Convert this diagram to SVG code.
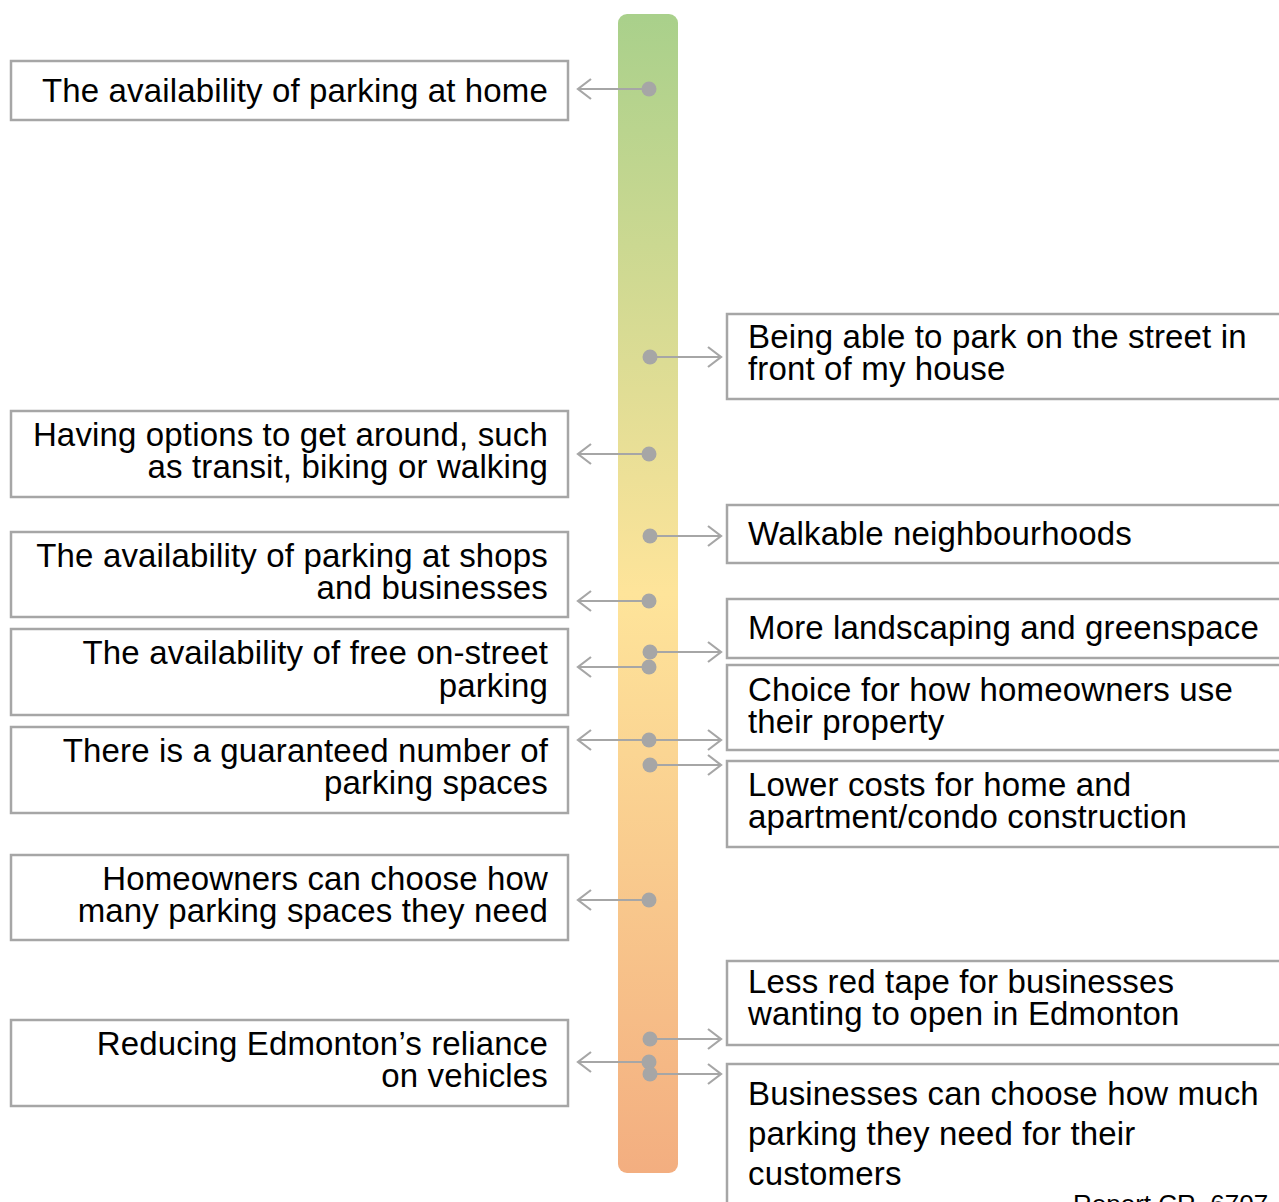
<svg xmlns="http://www.w3.org/2000/svg" width="1279" height="1202" viewBox="0 0 1279 1202">
<defs>
<linearGradient id="bar" x1="0" y1="0" x2="0" y2="1">
<stop offset="0" stop-color="#a9d08b"/>
<stop offset="0.5" stop-color="#fee49a"/>
<stop offset="1" stop-color="#f3ae80"/>
</linearGradient>
<marker id="ah" markerWidth="16" markerHeight="24" refX="14" refY="12" orient="auto" markerUnits="userSpaceOnUse">
<path d="M1,2 L14,12 L1,22" fill="none" stroke="#a6a6a6" stroke-width="2.2"/>
</marker>
</defs>
<style>
.box{fill:#fff;stroke:#a6a6a6;stroke-width:2.5}
.t{font-family:"Liberation Sans",Arial,sans-serif;font-size:33px;fill:#000;letter-spacing:0.15px}
.l{text-anchor:end}
.c{stroke:#a6a6a6;stroke-width:2.2;fill:none;marker-end:url(#ah)}
.d{fill:#a6a6a6}
</style>
<rect width="1279" height="1202" fill="#fff"/>
<rect id="scale" x="618" y="14" width="60" height="1159" rx="9" fill="url(#bar)"/>

<g id="L1"><rect class="box" x="11" y="61" width="557" height="59"/><text class="t l" x="548" y="102">The availability of parking at home</text></g>
<g id="L2"><rect class="box" x="11" y="411" width="557" height="86"/><text class="t l" x="548" y="446">Having options to get around, such</text><text class="t l" x="548" y="478">as transit, biking or walking</text></g>
<g id="L3"><rect class="box" x="11" y="532" width="557" height="85"/><text class="t l" x="548" y="567">The availability of parking at shops</text><text class="t l" x="548" y="599">and businesses</text></g>
<g id="L4"><rect class="box" x="11" y="629" width="557" height="86"/><text class="t l" x="548" y="664">The availability of free on-street</text><text class="t l" x="548" y="697">parking</text></g>
<g id="L5"><rect class="box" x="11" y="727" width="557" height="86"/><text class="t l" x="548" y="762">There is a guaranteed number of</text><text class="t l" x="548" y="794">parking spaces</text></g>
<g id="L6"><rect class="box" x="11" y="855" width="557" height="85"/><text class="t l" x="548" y="890">Homeowners can choose how</text><text class="t l" x="548" y="922">many parking spaces they need</text></g>
<g id="L7"><rect class="box" x="11" y="1020" width="557" height="86"/><text class="t l" x="548" y="1055">Reducing Edmonton’s reliance</text><text class="t l" x="548" y="1087">on vehicles</text></g>

<g id="R1"><rect class="box" x="727" y="314" width="570" height="85"/><text class="t" x="748" y="348">Being able to park on the street in</text><text class="t" x="748" y="380">front of my house</text></g>
<g id="R2"><rect class="box" x="727" y="505" width="570" height="58"/><text class="t" x="748" y="545">Walkable neighbourhoods</text></g>
<g id="R3"><rect class="box" x="727" y="599" width="570" height="59"/><text class="t" x="748" y="639">More landscaping and greenspace</text></g>
<g id="R4"><rect class="box" x="727" y="665" width="570" height="85"/><text class="t" x="748" y="701">Choice for how homeowners use</text><text class="t" x="748" y="733">their property</text></g>
<g id="R5"><rect class="box" x="727" y="761" width="570" height="86"/><text class="t" x="748" y="796">Lower costs for home and</text><text class="t" x="748" y="828">apartment/condo construction</text></g>
<g id="R6"><rect class="box" x="727" y="961" width="570" height="84"/><text class="t" x="748" y="993">Less red tape for businesses</text><text class="t" x="748" y="1025">wanting to open in Edmonton</text></g>
<g id="R7"><rect class="box" x="727" y="1064" width="570" height="160"/><text class="t" x="748" y="1105">Businesses can choose how much</text><text class="t" x="748" y="1145">parking they need for their</text><text class="t" x="748" y="1185">customers</text></g>

<g id="connectors">
<path class="c" d="M649,89 H578"/>
<path class="c" d="M650,357 H721"/>
<path class="c" d="M649,454 H578"/>
<path class="c" d="M650,536 H721"/>
<path class="c" d="M649,601 H578"/>
<path class="c" d="M650,652 H721"/>
<path class="c" d="M649,667 H578"/>
<path class="c" d="M649,740 H578"/>
<path class="c" d="M649,740 H721"/>
<path class="c" d="M650,765 H721"/>
<path class="c" d="M649,900 H578"/>
<path class="c" d="M650,1039 H721"/>
<path class="c" d="M649,1062 H578"/>
<path class="c" d="M650,1074 H721"/>
<circle class="d" cx="649" cy="89" r="7.5"/>
<circle class="d" cx="650" cy="357" r="7.5"/>
<circle class="d" cx="649" cy="454" r="7.5"/>
<circle class="d" cx="650" cy="536" r="7.5"/>
<circle class="d" cx="649" cy="601" r="7.5"/>
<circle class="d" cx="650" cy="652" r="7.5"/>
<circle class="d" cx="649" cy="667" r="7.5"/>
<circle class="d" cx="649" cy="740" r="7.5"/>
<circle class="d" cx="650" cy="765" r="7.5"/>
<circle class="d" cx="649" cy="900" r="7.5"/>
<circle class="d" cx="650" cy="1039" r="7.5"/>
<circle class="d" cx="649" cy="1062" r="7.5"/>
<circle class="d" cx="650" cy="1074" r="7.5"/>
</g>
<text x="1073" y="1213" style="font-family:'Liberation Sans',Arial,sans-serif;font-size:26px;fill:#000">Report CR_6707</text>
</svg>
